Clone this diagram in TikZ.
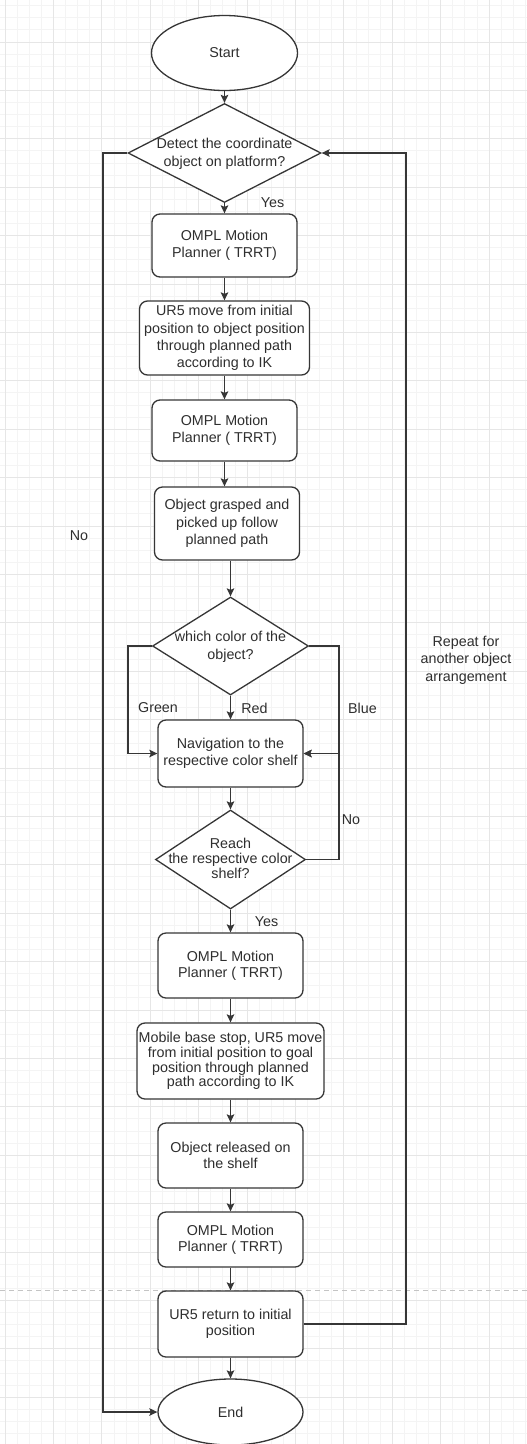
\documentclass[tikz,border=0pt]{standalone}
\usepackage{fontspec}
\setmainfont{Liberation Sans}
\usetikzlibrary{arrows.meta,positioning,shapes.geometric}
\definecolor{flowline}{HTML}{363636}
\definecolor{flowtext}{HTML}{2E2E2E}
\definecolor{gridminor}{HTML}{F4F4F4}
\definecolor{gridmajor}{HTML}{E6E6E6}
\definecolor{pagebreak}{HTML}{C4C4C4}
% decision text: centred, not counted in the diamond size
\newcommand{\dtext}[2][1]{\smash{\raisebox{-4.5pt}{\makebox[0pt]{\renewcommand{\arraystretch}{#1}\begin{tabular}{@{}c@{}}#2\end{tabular}}}}}
\tikzset{
  process/.style={draw=flowline, fill=white, line width=1.3pt, rounded corners=8pt, align=center, minimum width=145pt, minimum height=65pt, inner sep=1pt},
  tight/.style={font=\fontsize{14.3}{15.7}\selectfont},
  decision/.style={diamond, draw=flowline, fill=white, line width=1.3pt, minimum width=193pt, minimum height=99pt, inner sep=0pt},
  terminal/.style={ellipse, draw=flowline, fill=white, line width=1.3pt, minimum width=146pt, minimum height=75pt, inner sep=0pt},
  lbl/.style={inner sep=0pt, align=center},
  arrow/.style={-{Stealth[length=8pt, width=7.5pt, inset=1.5pt]}, line width=1.3pt, draw=flowline},
  gridline/.style={line width=1pt}
}

\begin{document}
\begin{tikzpicture}[x=1pt, y=-1pt, font=\fontsize{14.3}{17.4}\selectfont, text=flowtext]
  \useasboundingbox[fill=white] (0,0) rectangle (527,1444);
  % background grid
  \foreach \gx in {5.1,17.2,...,530} \draw[gridline, gridminor] (\gx,0) -- (\gx,1444);
  \foreach \gy in {5.7,17.8,...,1450} \draw[gridline, gridminor] (0,\gy) -- (527,\gy);
  \foreach \gx in {5.1,53.5,...,530} \draw[gridline, gridmajor] (\gx,0) -- (\gx,1444);
  \foreach \gy in {42,90.4,...,1450} \draw[gridline, gridmajor] (0,\gy) -- (527,\gy);
  \draw[pagebreak, line width=1pt, dash pattern=on 5pt off 4pt] (0,1290) -- (527,1290);

  \node[terminal] (start) at (224.5,53) {Start};
  \node[decision] (detect) at (224.5,153) {\dtext{Detect the coordinate\\object on platform?}};
  \node[process, minimum height=63pt] (plan1) at (224.5,245.5) {OMPL Motion\\Planner ( TRRT)};
  \node[process, minimum width=170pt, minimum height=74pt] (move1) at (224.5,338) {UR5 move from initial\\position to object position\\through planned path\\according to IK};
  \node[process, minimum height=61pt] (plan2) at (224.5,430.5) {OMPL Motion\\Planner ( TRRT)};
  \node[process, minimum height=73pt] (grasp) at (227,523.5) {Object grasped and\\picked up follow\\planned path};
  \node[decision, minimum width=156pt, minimum height=98pt] (color) at (230.5,646) {\dtext{which color of the\\object?}};
  \node[process, minimum height=67pt] (nav) at (230.5,753.5) {Navigation to the\\respective color shelf};
  \node[decision, minimum width=150pt, minimum height=99pt] (reach) at (230.5,859.5) {\dtext[0.88]{Reach\\the respective color\\shelf?}};
  \node[process, tight] (plan3) at (230.5,965.5) {OMPL Motion\\Planner ( TRRT)};
  \node[process, minimum width=187pt, minimum height=76pt, font=\fontsize{14.3}{14.8}\selectfont] (move2) at (230.5,1061) {Mobile base stop, UR5 move\\from initial position to goal\\position through planned\\path according to IK};
  \node[process, tight] (release) at (230.5,1155.5) {Object released on\\the shelf};
  \node[process, tight, minimum height=55pt] (plan4) at (230.5,1239.5) {OMPL Motion\\Planner ( TRRT)};
  \node[process, tight, minimum height=66pt] (back) at (230.5,1324) {UR5 return to initial\\position};
  \node[terminal, minimum width=145pt, minimum height=66pt] (finish) at (230.5,1412) {End};

  % labels
  \node[lbl] (yesdetect) at (272.5,203) {Yes};
  \node[lbl] (nodetect) at (79,536) {No};
  \node[lbl] (green) at (158,708) {Green};
  \node[lbl] (red) at (254.5,708) {Red};
  \node[lbl] (blue) at (362.5,708) {Blue};
  \node[lbl] (noreach) at (351,820) {No};
  \node[lbl] (yesreach) at (266.5,922) {Yes};
  \node[lbl] (repeat) at (466,660) {Repeat for\\another object\\arrangement};

  % rails of the side loops
  \coordinate (railL) at (103,0);
  \coordinate (railR) at (406,0);
  \coordinate (greenrail) at (128,0);
  \coordinate (bluerail) at (339,0);

  \draw[arrow] (start) -- (detect);
  \draw[arrow] (detect) -- (plan1);
  \draw[arrow] (plan1) -- (move1);
  \draw[arrow] (move1) -- (plan2);
  \draw[arrow] (plan2) -- (plan2 |- grasp.north);
  \draw[arrow] (grasp.south -| color) -- (color);
  \draw[arrow] (color) -- (nav);
  \draw[arrow] (color.west) -| (greenrail |- nav.west) -- (nav.west);
  \draw[arrow] (color.east) -| (bluerail |- nav.east) -- (nav.east);
  \draw[arrow] (nav) -- (reach);
  \draw[arrow] (reach.east) -| (bluerail |- nav.east) -- (nav.east);
  \draw[arrow] (reach) -- (plan3);
  \draw[arrow] (plan3) -- (move2);
  \draw[arrow] (move2) -- (release);
  \draw[arrow] (release) -- (plan4);
  \draw[arrow] (plan4) -- (back);
  \draw[arrow] (back) -- (finish);
  \draw[arrow] (detect.west) -| (railL |- finish.west) -- (finish.west);
  \draw[arrow] (back.east) -| (railR |- detect.east) -- (detect.east);
\end{tikzpicture}
\end{document}
